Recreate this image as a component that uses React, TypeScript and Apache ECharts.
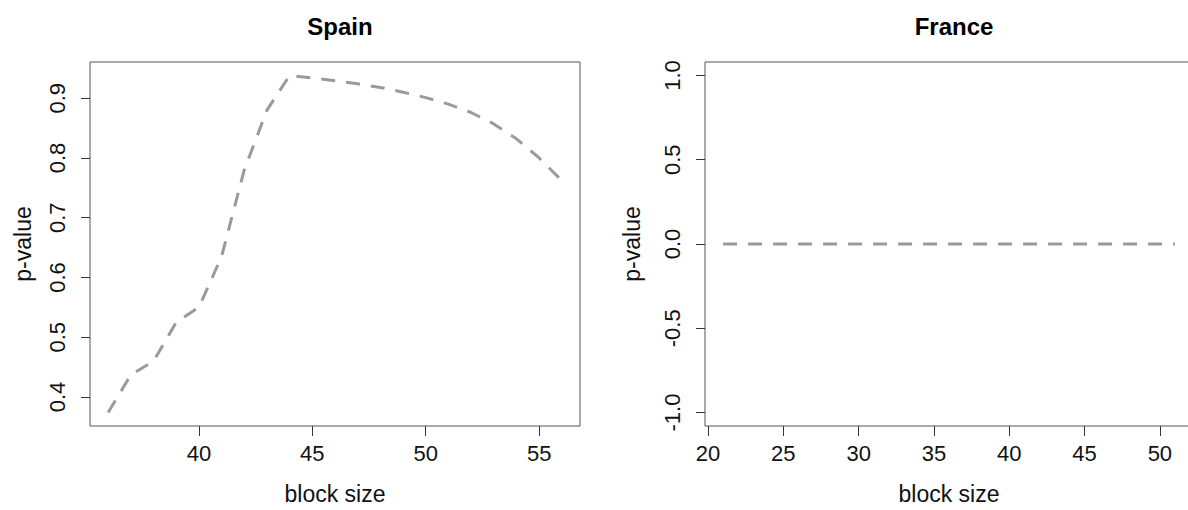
import React, { useEffect, useRef } from "react";
import * as echarts from "echarts";

const spainBlockSize = [36, 37, 38, 39, 40, 41, 42, 43, 44, 45, 46, 47, 48, 49, 50, 51, 52, 53, 54, 55, 56];
const spainPValue = [0.374, 0.437, 0.46, 0.525, 0.55, 0.635, 0.78, 0.88, 0.938, 0.934, 0.929, 0.924, 0.918, 0.91, 0.901, 0.89, 0.876, 0.857, 0.832, 0.8, 0.762];

const franceBlockSize = [21, 22, 23, 24, 25, 26, 27, 28, 29, 30, 31, 32, 33, 34, 35, 36, 37, 38, 39, 40, 41, 42, 43, 44, 45, 46, 47, 48, 49, 50, 51];
const francePValue = [0, 0, 0, 0, 0, 0, 0, 0, 0, 0, 0, 0, 0, 0, 0, 0, 0, 0, 0, 0, 0, 0, 0, 0, 0, 0, 0, 0, 0, 0, 0];

const spainXTicks = [40, 45, 50, 55];
const spainYTicks = [0.4, 0.5, 0.6, 0.7, 0.8, 0.9];
const franceXTicks = [20, 25, 30, 35, 40, 45, 50];
const franceYTicks = [-1.0, -0.5, 0.0, 0.5, 1.0];

const titles = ["Spain", "France"];
const xTitle = "block size";
const yTitle = "p-value";

const FONT = "'Liberation Sans', Arial, Helvetica, sans-serif";
const CHART_W = 1210;

// R-style 4% range extension
function rRange(vals: number[]): [number, number] {
  let lo = Math.min(...vals);
  let hi = Math.max(...vals);
  if (lo === hi) {
    if (lo === 0) { lo = -1; hi = 1; } else { const d = Math.abs(lo) * 0.4; lo -= d; hi += d; }
  }
  const e = (hi - lo) * 0.04;
  return [lo - e, hi + e];
}

export default function App() {
  const ref = useRef<HTMLDivElement>(null);
  useEffect(() => {
    if (!ref.current) return;
    const chart = echarts.init(ref.current, undefined, { renderer: "svg" });
    const sx = rRange(spainBlockSize);
    const sy = rRange(spainPValue);
    const fx = rRange(franceBlockSize);
    const fy = rRange(francePValue);

    const tickStyle = { color: "#333", width: 1 };
    const mkX = (gi: number, r: [number, number], ticks: number[]) => ({
      type: "value",
      gridIndex: gi,
      min: r[0],
      max: r[1],
      name: xTitle,
      nameLocation: "middle",
      nameGap: 56,
      nameTextStyle: { fontSize: 23, fontFamily: FONT, color: "#111" },
      axisLine: { show: false, onZero: false },
      axisTick: { show: true, inside: false, length: 10, lineStyle: tickStyle, customValues: ticks },
      axisLabel: {
        show: true,
        customValues: ticks,
        fontSize: 22,
        fontFamily: FONT,
        color: "#111",
        margin: 16,
        formatter: (v: number) => String(Math.round(v)),
      },
      splitLine: { show: false },
    });
    const mkY = (gi: number, r: [number, number], ticks: number[], gap: number) => ({
      type: "value",
      gridIndex: gi,
      min: r[0],
      max: r[1],
      name: yTitle,
      nameLocation: "middle",
      nameRotate: 90,
      nameGap: gap,
      nameTextStyle: { fontSize: 23, fontFamily: FONT, color: "#111" },
      axisLine: { show: false, onZero: false },
      axisTick: { show: true, inside: false, length: 9, lineStyle: tickStyle, customValues: ticks },
      axisLabel: {
        show: true,
        customValues: ticks,
        rotate: 90,
        fontSize: 22,
        fontFamily: FONT,
        color: "#111",
        margin: 22,
        formatter: (v: number) => v.toFixed(1),
      },
      splitLine: { show: false },
    });

    const lineStyle = { color: "#9a9a9a", width: 3, type: [14, 11] as any, cap: "butt" };

    chart.setOption({
      animation: false,
      backgroundColor: "#ffffff",
      title: [
        { text: titles[0], left: 335, top: 9, textAlign: "center", textStyle: { fontSize: 24, fontWeight: "bold", fontFamily: FONT, color: "#000" } },
        { text: titles[1], left: 949, top: 9, textAlign: "center", textStyle: { fontSize: 24, fontWeight: "bold", fontFamily: FONT, color: "#000" } },
      ],
      grid: [
        { left: 90, right: CHART_W - 580, top: 62, bottom: 510 - 426, show: true, borderColor: "#555", borderWidth: 1, containLabel: false },
        { left: 705, right: CHART_W - 1193, top: 62, bottom: 510 - 426, show: true, borderColor: "#555", borderWidth: 1, containLabel: false },
      ],
      xAxis: [mkX(0, sx, spainXTicks), mkX(1, fx, franceXTicks)],
      yAxis: [mkY(0, sy, spainYTicks, 56), mkY(1, fy, franceYTicks, 62)],
      series: [
        {
          type: "line",
          xAxisIndex: 0,
          yAxisIndex: 0,
          data: spainBlockSize.map((x, i) => [x, spainPValue[i]]),
          symbol: "none",
          lineStyle,
        },
        {
          type: "line",
          xAxisIndex: 1,
          yAxisIndex: 1,
          data: franceBlockSize.map((x, i) => [x, francePValue[i]]),
          symbol: "none",
          lineStyle,
        },
      ],
    });
    return () => chart.dispose();
  }, []);
  return (
    <div style={{ position: "fixed", left: 0, top: 0, width: 1188, height: 510, overflow: "hidden", background: "#fff" }}>
      <div ref={ref} style={{ width: CHART_W, height: 510 }} />
    </div>
  );
}
